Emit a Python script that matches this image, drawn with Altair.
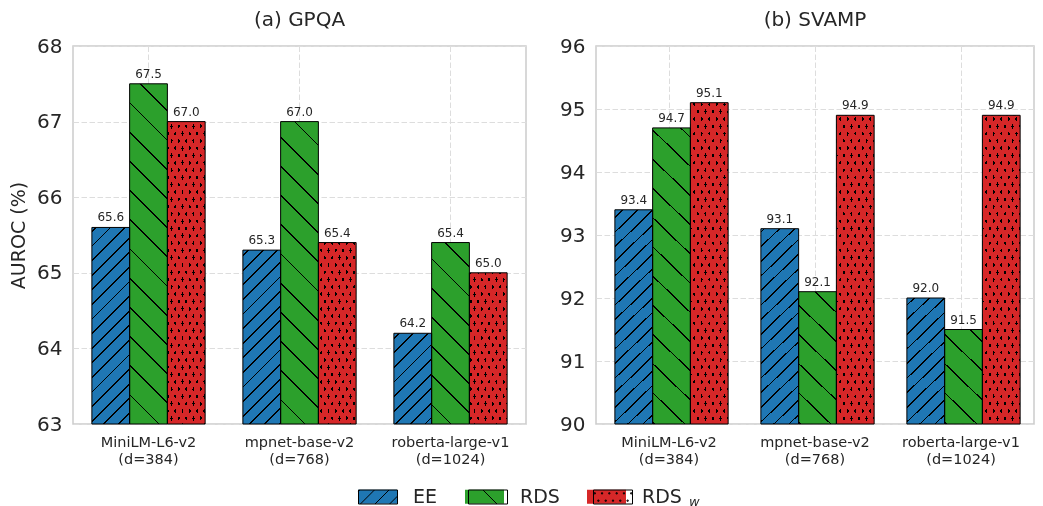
import math
import altair as alt
import pandas as pd

# ---------------- data ----------------
models = ["MiniLM-L6-v2", "mpnet-base-v2", "roberta-large-v1"]
dims = ["(d=384)", "(d=768)", "(d=1024)"]
methods = ["EE", "RDS", "RDS_w"]
legend_sub = ["w"]
gpqa_ee = [65.6, 65.3, 64.2]
gpqa_rds = [67.5, 67.0, 65.4]
gpqa_rdsw = [67.0, 65.4, 65.0]
svamp_ee = [93.4, 93.1, 92.0]
svamp_rds = [94.7, 92.1, 91.5]
svamp_rdsw = [95.1, 94.9, 94.9]
gpqa_ticks = [63, 64, 65, 66, 67, 68]
svamp_ticks = [90, 91, 92, 93, 94, 95, 96]
titles = ["(a) GPQA", "(b) SVAMP"]
y_title = "AUROC (%)"

# ---------------- style ----------------
colors = ["#1f77b4", "#2ca02c", "#d62728"]
FONT = "DejaVu Sans"
TXT = "#262626"
W_LEFT, W_RIGHT, H = 453, 438, 378
CELL = 87.6
EE_SP = CELL / 6.0
RDS_SP = CELL / 3.0
DOT_SP = CELL / 12.0
LINE_W = 1.2
DOT_W = 2.1


def fam(a, b, width):
    return (a, b, 0.5 * width * math.sqrt(a * a + b * b))


FAM = {
    "EE": [fam(1 / EE_SP, 1 / EE_SP, LINE_W)],
    "RDS": [fam(1 / RDS_SP, -1 / RDS_SP, LINE_W)],
    "RDS_w": [fam(1 / DOT_SP, -0.5 / DOT_SP, DOT_W), fam(1 / DOT_SP, 0.5 / DOT_SP, DOT_W)],
}


def stripe_gradient(w, h, xoff, yoff, alpha, beta, hw, base, ink="#000000"):
    corners = [(0, 0), (w, 0), (0, h), (w, h)]
    fv = [alpha * (x + xoff) + beta * (y + yoff) for x, y in corners]
    fmin, fmax = min(fv), max(fv)
    F = fmax - fmin
    X0 = 0 if alpha >= 0 else w
    Y0 = 0 if beta >= 0 else h
    a_ = alpha / F
    b_ = beta / F
    K = 1.0 / (a_ * a_ * w * w + b_ * b_ * h * h)
    dx = a_ * w * K
    dy = b_ * h * K
    x1 = X0 / w
    y1 = Y0 / h
    stops = []
    for k in range(math.floor(fmin - hw) - 1, math.ceil(fmax + hw) + 2):
        lo = (k - hw - fmin) / F
        hi = (k + hw - fmin) / F
        if hi <= 0 or lo >= 1:
            continue
        lo = max(lo, 0.0)
        hi = min(hi, 1.0)
        stops += [(lo, base), (lo, ink), (hi, ink), (hi, base)]
    if not stops:
        stops = [(0.0, base), (1.0, base)]
    return {
        "gradient": "linear",
        "x1": round(x1, 6), "y1": round(y1, 6),
        "x2": round(x1 + dx, 6), "y2": round(y1 + dy, 6),
        "stops": [{"offset": round(o, 6), "color": c} for o, c in stops],
    }


# legend symbol paths (unit box -1..1, swatch 39x14 px)
U = 19.5
HW_PX, HH_PX = 19.5, 7.0


def fmt(v):
    return f"{v / U:.4f}"


def rect_path():
    return f"M{fmt(-HW_PX)},{fmt(-HH_PX)}L{fmt(HW_PX)},{fmt(-HH_PX)}L{fmt(HW_PX)},{fmt(HH_PX)}L{fmt(-HW_PX)},{fmt(HH_PX)}Z"


def hatch_path(sign, spacing, phase):
    out = ""
    for k in range(-10, 11):
        c = k * spacing + phase
        if sign > 0:
            vlo, vhi = max(-HH_PX, c - HW_PX), min(HH_PX, c + HW_PX)
        else:
            vlo, vhi = max(-HH_PX, -HW_PX - c), min(HH_PX, HW_PX - c)
        if vhi - vlo > 0.5:
            u1, u2 = c - sign * vlo, c - sign * vhi
            out += f"M{fmt(u1)},{fmt(vlo)}L{fmt(u2)},{fmt(vhi)}"
    return out


def dots_path():
    out = ""
    s = 0.6
    rows = [(-3.65, -18.25, 6), (3.65, -14.6, 5)]
    for v, u0, n in rows:
        for k in range(n):
            u = u0 + k * DOT_SP
            out += f"M{fmt(u - s)},{fmt(v - s)}L{fmt(u + s)},{fmt(v - s)}L{fmt(u + s)},{fmt(v + s)}L{fmt(u - s)},{fmt(v + s)}Z"
    return out


legend_paths = [
    rect_path() + hatch_path(1, EE_SP, 4.0),
    rect_path() + hatch_path(-1, RDS_SP, 2.0),
    rect_path() + dots_path(),
]
ink_domain = [m + "*" for m in methods]

LEG_COMMON = dict(
    title=None, orient="none", legendX=285, legendY=431, direction="horizontal",
    symbolSize=1521, symbolOpacity=1,
    labelFontSize=19, labelFont=FONT, labelOffset=16,
    columnPadding=27, padding=0,
    labelExpr="replace(datum.label, '*', '') == 'RDS_w' ? 'RDS' : replace(datum.label, '*', '')",
)
LEG_FILL = alt.Legend(symbolType=rect_path(), symbolStrokeWidth=0, labelColor=TXT, **LEG_COMMON)
LEG_INK = alt.Legend(symbolStrokeColor="black", symbolStrokeWidth=1, symbolFillColor="transparent",
                     labelColor=TXT, labelOpacity=0, **LEG_COMMON)


def panel(vals, ticks, title, ytitle, width, with_legend, with_sub):
    ymin, ymax = ticks[0], ticks[-1]
    band = width / 3.0
    bar = band / 4.0
    rows, fill1, fill2 = [], [], []
    for i, m in enumerate(models):
        for j, meth in enumerate(methods):
            v = vals[j][i]
            key = f"k{i}{j}"
            rows.append({"model": m + "|" + dims[i], "method": meth, "method2": ink_domain[j],
                         "value": v, "key": key})
            h = (v - ymin) / (ymax - ymin) * H
            xoff = i * band + (0.5 + j) * bar
            yoff = H - h
            fams = FAM[meth]
            fill1.append({"test": f"datum.key === '{key}'",
                          "value": stripe_gradient(bar, h, xoff, yoff, *fams[0], colors[j])})
            if len(fams) > 1:
                fill2.append({"test": f"datum.key === '{key}'",
                              "value": stripe_gradient(bar, h, xoff, yoff, *fams[1], colors[j])})
    df = pd.DataFrame(rows)
    order = [m + "|" + d for m, d in zip(models, dims)]

    xenc = alt.X("model:N", sort=order,
                 scale=alt.Scale(paddingInner=0, paddingOuter=0),
                 axis=alt.Axis(title=None, labelExpr="split(datum.label, '|')", labelAngle=0,
                               ticks=False, domain=False, grid=True, bandPosition=0.5,
                               labelFontSize=14.5, labelPadding=11, labelLineHeight=17,
                               labelColor=TXT, labelFont=FONT))
    xoenc = alt.XOffset("method:N", sort=methods,
                        scale=alt.Scale(paddingInner=0, paddingOuter=0.5))
    if ytitle:
        yaxis = alt.Axis(values=ticks, title=ytitle, ticks=False, domain=False, grid=True,
                         labelFontSize=20, labelPadding=11, labelColor=TXT, labelFont=FONT,
                         titleFontSize=19, titleFontWeight="normal", titleColor=TXT,
                         titleFont=FONT, titlePadding=8)
    else:
        yaxis = alt.Axis(values=ticks, title=None, ticks=False, domain=False, grid=True,
                         labelFontSize=20, labelPadding=11, labelColor=TXT, labelFont=FONT)
    yenc = alt.Y("value:Q", scale=alt.Scale(domain=[ymin, ymax], zero=False, nice=False), axis=yaxis)

    base = alt.Chart(df)
    fillbars = base.mark_bar(strokeWidth=0).encode(
        x=xenc, xOffset=xoenc, y=yenc, y2=alt.datum(ymin),
        fill={"condition": fill1, "value": "#ffffff"},
    )
    dotbars = base.transform_filter(alt.datum.method == "RDS_w").mark_bar(
        strokeWidth=0, blend="lighten").encode(
        x=xenc, xOffset=xoenc, y=yenc, y2=alt.datum(ymin),
        fill={"condition": fill2, "value": colors[2]},
    )
    outline = base.mark_bar(fillOpacity=0, stroke="black", strokeWidth=1).encode(
        x=xenc, xOffset=xoenc, y=yenc, y2=alt.datum(ymin),
    )
    labels = base.mark_text(fontSize=12, dy=-6, baseline="alphabetic", color=TXT, font=FONT).encode(
        x=xenc, xOffset=xoenc, y=yenc, text=alt.Text("value:Q", format=".1f"),
    )
    layers = [fillbars, dotbars, outline, labels]
    if with_legend:
        leg_fill = base.transform_filter("false").mark_point(filled=True, opacity=1).encode(
            color=alt.Color("method:N", scale=alt.Scale(domain=methods, range=colors), legend=LEG_FILL),
        )
        leg_ink = base.transform_filter("false").mark_point(
            filled=False, opacity=1, color="black", strokeWidth=1).encode(
            shape=alt.Shape("method2:N", scale=alt.Scale(domain=ink_domain, range=legend_paths),
                            legend=LEG_INK),
        )
        layers += [leg_fill, leg_ink]
    if with_sub:
        sub = alt.Chart(pd.DataFrame({"t": legend_sub})).mark_text(
            fontSize=13, fontStyle="italic", font=FONT, color=TXT, align="left",
            baseline="alphabetic").encode(
            x=alt.value(93), y=alt.value(460), text="t:N")
        layers.append(sub)
    return alt.layer(*layers).properties(
        width=width, height=H,
        title=alt.TitleParams(title, fontSize=20, fontWeight="normal", font=FONT,
                              color=TXT, offset=6, anchor="middle", frame="group"),
    )


left = panel([gpqa_ee, gpqa_rds, gpqa_rdsw], gpqa_ticks, titles[0], y_title, W_LEFT, True, False)
right = panel([svamp_ee, svamp_rds, svamp_rdsw], svamp_ticks, titles[1], None, W_RIGHT, False, True)

chart = alt.hconcat(left, right, spacing=31).properties(
    padding={"left": 0, "top": 1, "right": 0, "bottom": 0}
).configure(font=FONT).configure_view(
    stroke="#cccccc", strokeWidth=1.5
).configure_axis(
    gridColor="#dddddd", gridDash=[5.5, 2.5], gridWidth=1
)

chart.save("out.html", embed_options={"renderer": "svg", "actions": False})
